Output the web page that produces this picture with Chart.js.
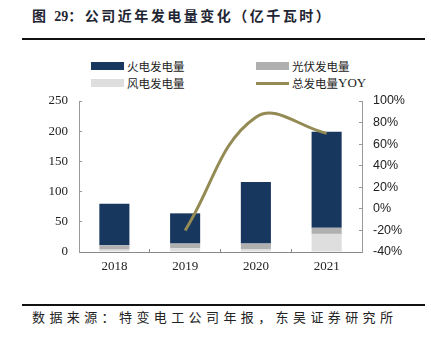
<!DOCTYPE html>
<html>
<head>
<meta charset="utf-8">
<script src="https://cdn.jsdelivr.net/npm/chart.js@4/dist/chart.umd.min.js"></script>
<style>
  html, body { margin: 0; padding: 0; background: #fff; }
  #page { position: relative; width: 431px; height: 341px; overflow: hidden; background: #fff; }
  #title { position: absolute; left: 32px; top: 5px; line-height: 20px; font-family: "Noto Sans CJK SC", sans-serif; font-size: 14px; font-weight: bold; letter-spacing: 2.5px; color: #1f2633; white-space: nowrap; }
  #title .num { font-family: "Liberation Serif", serif; font-weight: bold; letter-spacing: 0; }
  .rule { position: absolute; left: 22px; width: 403px; background: #111; }
  #source { position: absolute; left: 32px; top: 307px; line-height: 20px; font-family: "Noto Sans CJK SC", sans-serif; font-size: 13px; letter-spacing: 4.4px; color: #222; white-space: nowrap; }
  #chartBox { position: absolute; left: 0; top: 40px; width: 431px; height: 260px; }
  .lg { position: absolute; height: 14px; display: flex; align-items: center; font-family: "Noto Sans CJK SC", sans-serif; font-size: 11.5px; color: #222; white-space: nowrap; }
  .lg .sw { width: 33px; margin-right: 3px; }
  .lg .en { font-family: "Liberation Serif", serif; font-size: 13px; }
</style>
</head>
<body>
<div id="page">
  <div id="title">图 <span class="num">29</span>：公司近年发电量变化（亿千瓦时）</div>
  <div class="rule" style="top:37.5px;height:2px;"></div>
  <div id="legend"></div>
  <div id="chartBox"><canvas id="c" width="431" height="260"></canvas></div>
  <div class="rule" style="top:304px;height:1.6px;"></div>
  <div id="source">数据来源：特变电工公司年报，东吴证券研究所</div>
</div>
<script>
// ---- data ----
const categories = ['2018', '2019', '2020', '2021'];
const thermalPower = [69, 50, 102, 159];   // 火电发电量
const solarPower = [7, 8, 9, 10];          // 光伏发电量
const windPower = [4, 6, 5, 30];           // 风电发电量
const totalYoY = [null, -20, 85, 70];      // 总发电量YOY (%)
const leftTickValues = [0, 50, 100, 150, 200, 250];
const rightTickValues = [-40, -20, 0, 20, 40, 60, 80, 100];

const colors = { thermal: '#17375E', solar: '#B0B0B0', wind: '#DEDEDE', yoy: '#948A54' };

const datasets = [
  { type: 'line', label: '总发电量YOY', data: totalYoY, yAxisID: 'y1', order: 0,
    borderColor: colors.yoy, backgroundColor: colors.yoy, borderWidth: 3,
    pointRadius: 0, tension: 0.4, clip: false, fill: false },
  { type: 'bar', label: '风电发电量', data: windPower, yAxisID: 'y', order: 1,
    backgroundColor: colors.wind, borderWidth: 0 },
  { type: 'bar', label: '光伏发电量', data: solarPower, yAxisID: 'y', order: 2,
    backgroundColor: colors.solar, borderWidth: 0 },
  { type: 'bar', label: '火电发电量', data: thermalPower, yAxisID: 'y', order: 3,
    backgroundColor: colors.thermal, borderWidth: 0 }
];

const serif = 'Liberation Serif';
const sans = 'Liberation Sans';

const chart = new Chart(document.getElementById('c'), {
  data: { labels: categories, datasets: datasets },
  options: {
    responsive: false,
    animation: false,
    layout: { padding: { top: 61, left: 0, right: 0, bottom: 0 } },
    plugins: { legend: { display: false }, tooltip: { enabled: false } },
    datasets: { bar: { categoryPercentage: 1, barPercentage: 0.425 } },
    scales: {
      x: {
        stacked: true,
        grid: { offset: true, drawOnChartArea: false, drawTicks: true, tickLength: -3, color: '#888' },
        border: { color: '#888', width: 1 },
        ticks: { font: { family: serif, size: 13 }, color: '#222', padding: 10 },
        afterFit: (s) => { s.height = 48; }
      },
      y: {
        position: 'left', stacked: true, min: 0, max: 250,
        afterBuildTicks: (s) => { s.ticks = leftTickValues.map(v => ({ value: v })); },
        grid: { drawOnChartArea: false, drawTicks: true, tickLength: -3, color: '#999' },
        border: { color: '#999', width: 1 },
        ticks: { font: { family: serif, size: 13 }, color: '#222', padding: 14 },
        afterFit: (s) => { s.width = 79; }
      },
      y1: {
        position: 'right', stacked: false, min: -40, max: 100,
        afterBuildTicks: (s) => { s.ticks = rightTickValues.map(v => ({ value: v })); },
        grid: { drawOnChartArea: false, drawTicks: true, tickLength: -3, color: '#999' },
        border: { color: '#999', width: 1 },
        ticks: { font: { family: sans, size: 12.5 }, color: '#222', padding: 14,
                 callback: (v) => v + '%' },
        afterFit: (s) => { s.width = 69; }
      }
    }
  }
});

// ---- HTML legend built from the chart's datasets (two columns) ----
const legendOrder = ['火电发电量', '光伏发电量', '风电发电量', '总发电量YOY'];
const legendPos = [[91, 59], [256, 59], [91, 76], [256, 76]];
const legendEl = document.getElementById('legend');
legendOrder.forEach((name, i) => {
  const ds = chart.data.datasets.find(d => d.label === name);
  const item = document.createElement('div');
  item.className = 'lg';
  item.style.left = legendPos[i][0] + 'px';
  item.style.top = legendPos[i][1] + 'px';
  const sw = document.createElement('span');
  sw.className = 'sw';
  if (ds.type === 'line') {
    sw.style.height = '3px';
    sw.style.background = ds.borderColor;
  } else {
    sw.style.height = '8px';
    sw.style.background = ds.backgroundColor;
  }
  item.appendChild(sw);
  const m = name.match(/^(.*?)([A-Za-z]+)?$/);
  const t1 = document.createElement('span');
  t1.textContent = m[1];
  item.appendChild(t1);
  if (m[2]) {
    const t2 = document.createElement('span');
    t2.className = 'en';
    t2.textContent = m[2];
    item.appendChild(t2);
  }
  legendEl.appendChild(item);
});
</script>
</body>
</html>
